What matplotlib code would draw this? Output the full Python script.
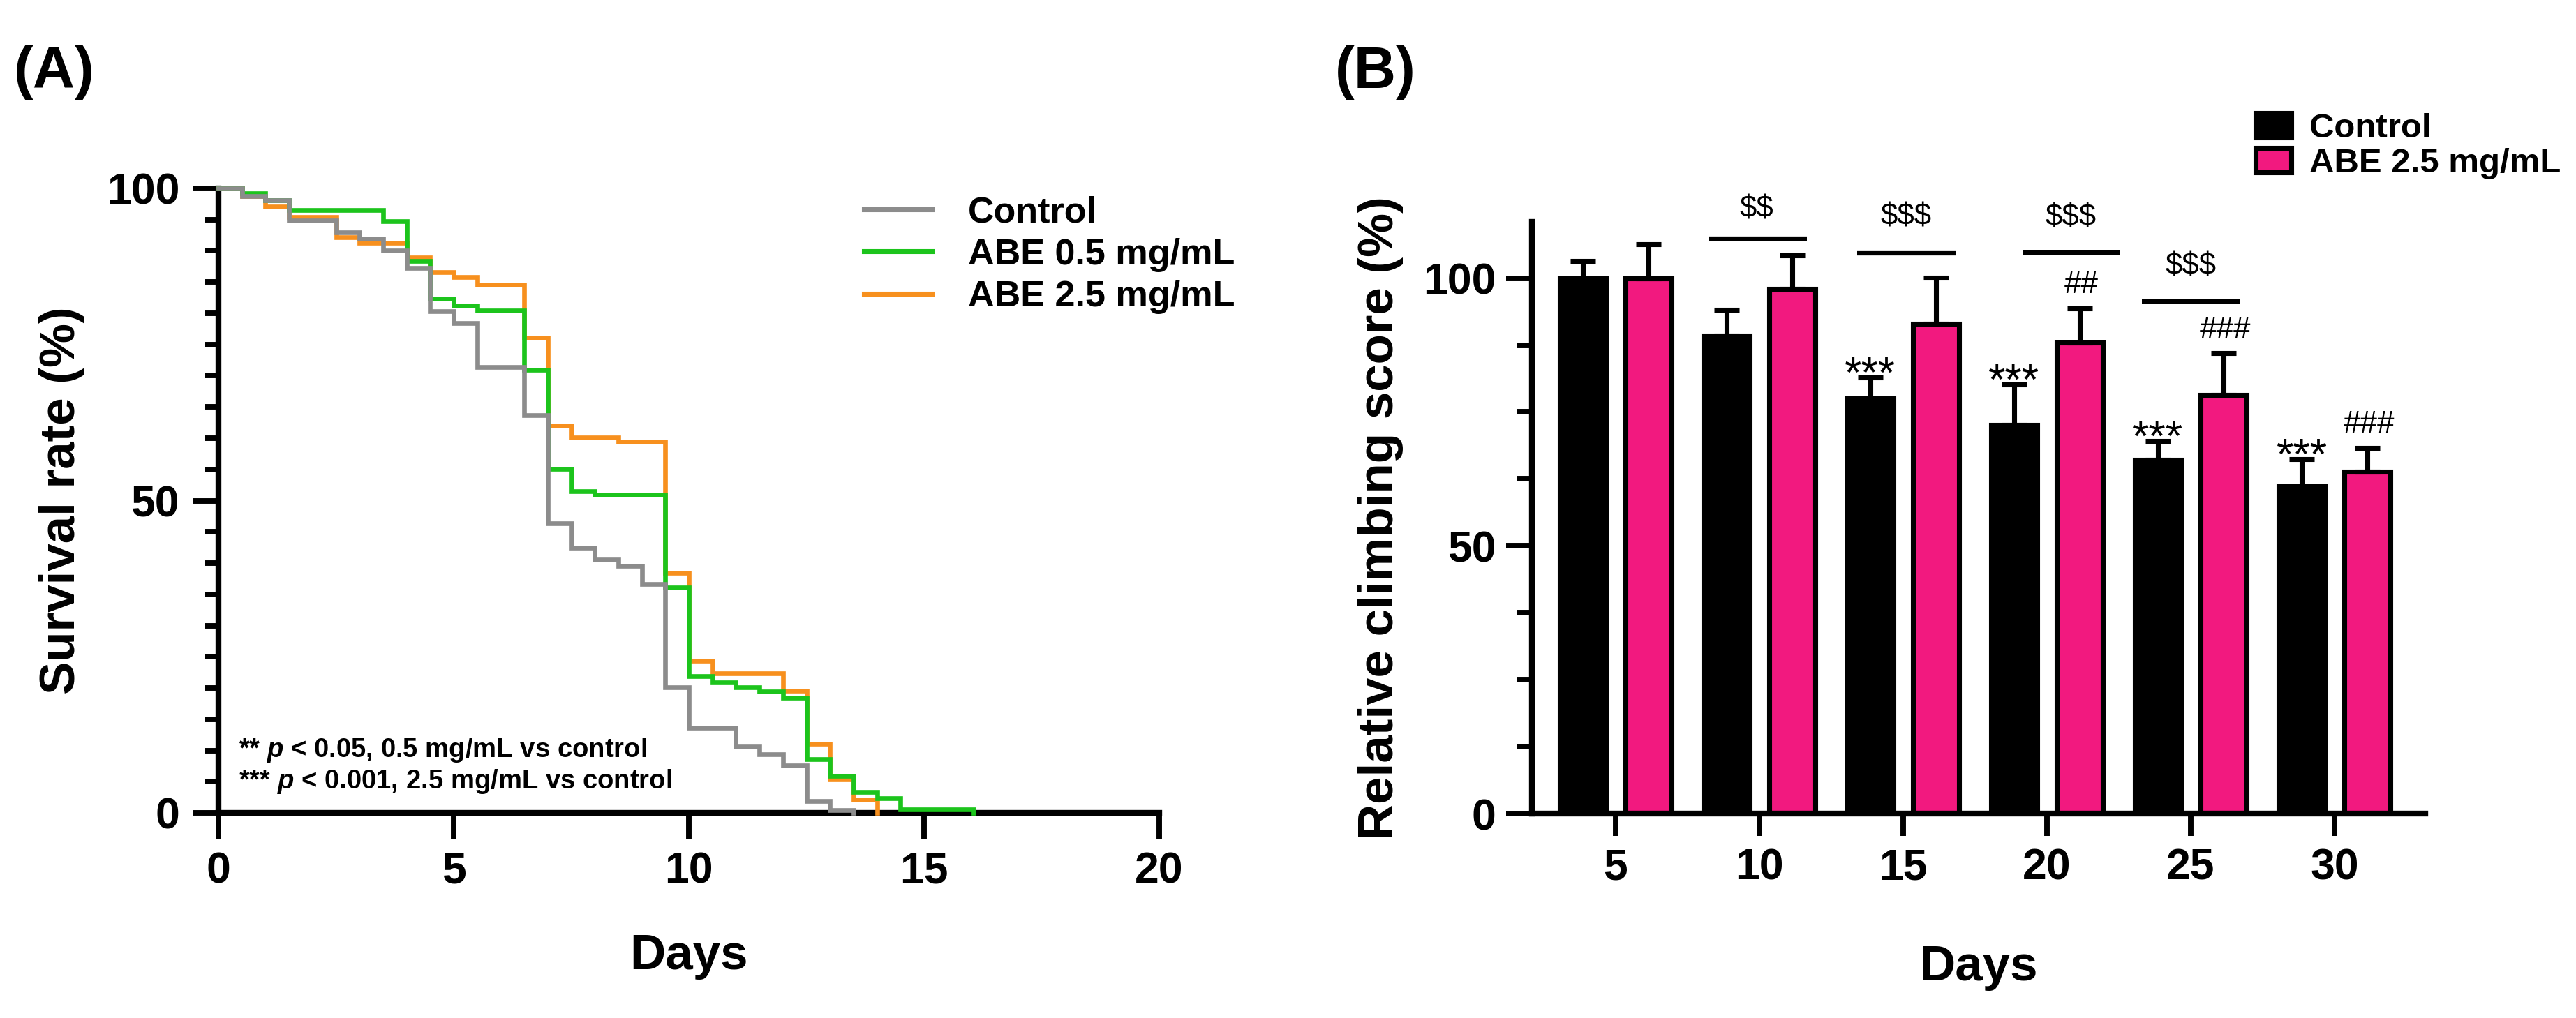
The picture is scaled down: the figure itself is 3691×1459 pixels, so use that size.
import matplotlib
matplotlib.use("Agg")
import matplotlib.pyplot as plt
from matplotlib.ticker import FixedLocator, MultipleLocator
import numpy as np

plt.rcParams['font.family'] = ['Liberation Sans', 'DejaVu Sans']
plt.rcParams['mathtext.fontset'] = 'custom'
plt.rcParams['mathtext.it'] = 'Liberation Sans:italic:bold'
plt.rcParams['mathtext.rm'] = 'Liberation Sans:bold'

# ---------------- Panel A data (Kaplan-Meier survival, step curves) ----------------
ctrl_days = [0, 0.5, 1.0, 1.5, 2.5, 3.0, 3.5, 4.0, 4.5, 5.0, 5.5, 6.5, 7.0, 7.5, 8.0, 8.5,
             9.0, 9.5, 10.0, 11.0, 11.5, 12.0, 12.5, 13.0, 13.5]
ctrl_surv = [100, 98.8, 98.1, 94.9, 93.0, 92.0, 90.0, 87.3, 80.3, 78.4, 71.4, 63.7, 46.4, 42.5, 40.6, 39.6,
             36.6, 20.1, 13.6, 10.6, 9.4, 7.6, 1.9, 0.4, 0]

abe05_days = [0, 0.5, 1.0, 1.5, 3.5, 4.0, 4.5, 5.0, 5.5, 6.5, 7.0, 7.5, 8.0, 9.5, 10.0, 10.5,
              11.0, 11.5, 12.0, 12.5, 13.0, 13.5, 14.0, 14.5, 16.05]
abe05_surv = [100, 99.2, 98.1, 96.5, 94.7, 88.4, 82.3, 81.2, 80.4, 70.9, 55.1, 51.5, 50.9, 36.1, 21.9, 20.9,
              20.1, 19.4, 18.4, 8.6, 5.9, 3.4, 2.4, 0.6, 0]

abe25_days = [0, 0.5, 1.0, 1.5, 2.5, 3.0, 4.0, 4.5, 5.0, 5.5, 6.5, 7.0, 7.5, 8.5, 9.5, 10.0,
              10.5, 12.0, 12.5, 13.0, 13.5, 14.0]
abe25_surv = [100, 98.8, 97.1, 95.4, 92.2, 91.3, 88.9, 86.6, 85.8, 84.6, 76.1, 62.0, 60.1, 59.4, 38.4, 24.4,
              22.4, 19.6, 11.1, 5.4, 2.1, 0]

surv_labels = ['Control', 'ABE 0.5 mg/mL', 'ABE 2.5 mg/mL']
surv_colors = ['#8c8c8c', '#1cc41c', '#f7901e']

# ---------------- Panel B data (relative climbing score) ----------------
climb_days = ['5', '10', '15', '20', '25', '30']
climb_ctrl = [100, 89.3, 77.5, 72.6, 66.1, 61.1]
climb_ctrl_err = [3.2, 4.8, 4.0, 7.5, 3.5, 5.1]
climb_abe = [100, 98.0, 91.5, 87.9, 78.2, 63.9]
climb_abe_err = [6.3, 6.2, 8.6, 6.5, 7.8, 4.4]
climb_labels = ['Control', 'ABE 2.5 mg/mL']
climb_colors = ['#000000', '#f2197f']

# significance annotations
dollar_text = ['$$', '$$$', '$$$', '$$$']
star_text = ['', '', '***', '***', '***', '***']
hash_text = ['', '', '', '##', '###', '###']

# ---------------- figure ----------------
W, H, DPI = 3691, 1459, 300
fig = plt.figure(figsize=(W / DPI, H / DPI), dpi=DPI)


def fx(px):
    return px / W


def fy(py):
    return 1 - py / H


# ===== Panel A =====
axA = fig.add_axes([fx(313), fy(1165), fx(1661) - fx(313), fy(270) - fy(1165)])
lines = []
for days, surv, col, lab, z in [(ctrl_days, ctrl_surv, surv_colors[0], surv_labels[0], 5),
                                (abe05_days, abe05_surv, surv_colors[1], surv_labels[1], 4),
                                (abe25_days, abe25_surv, surv_colors[2], surv_labels[2], 3)]:
    ln, = axA.step(days, surv, where='post', color=col, lw=1.6, label=lab,
                   clip_on=False, zorder=z, solid_joinstyle='miter')
    lines.append(ln)

axA.set_xlim(0, 20)
axA.set_ylim(0, 100)
for s in ['top', 'right']:
    axA.spines[s].set_visible(False)
for s in ['left', 'bottom']:
    axA.spines[s].set_linewidth(2.0)
axA.xaxis.set_major_locator(FixedLocator([0, 5, 10, 15, 20]))
axA.yaxis.set_major_locator(FixedLocator([0, 50, 100]))
axA.yaxis.set_minor_locator(MultipleLocator(5))
axA.tick_params(axis='both', which='major', direction='out', length=8.9, width=1.9,
                labelsize=15)
axA.tick_params(axis='y', which='major', pad=4.5)
axA.tick_params(axis='x', which='major', pad=4.3)
axA.tick_params(axis='y', which='minor', direction='out', length=4.5, width=1.9)
for lab in axA.get_xticklabels() + axA.get_yticklabels():
    lab.set_fontweight('bold')

legA = axA.legend(handles=lines, labels=surv_labels, loc='center left',
                  bbox_to_anchor=(fx(1238), fy(365)), bbox_transform=fig.transFigure,
                  frameon=False, borderpad=0, borderaxespad=0, handlelength=1.86,
                  handletextpad=1.0, labelspacing=0.22,
                  prop={'weight': 'bold', 'size': 12.5})
for h in legA.get_lines():
    h.set_linewidth(1.7)

axA.text((342 - 313) / 67.4, (1164 - 1084) / 8.93, r'** $p$ < 0.05, 0.5 mg/mL vs control',
         fontsize=9.2, fontweight='bold', ha='left', va='baseline')
axA.text((342 - 313) / 67.4, (1164 - 1129) / 8.93, r'*** $p$ < 0.001, 2.5 mg/mL vs control',
         fontsize=9.2, fontweight='bold', ha='left', va='baseline')

fig.text(fx(89), fy(717), 'Survival rate (%)', rotation=90, ha='center', va='center',
         fontsize=17, fontweight='bold')
fig.text(fx(987), fy(1389), 'Days', ha='center', va='baseline', fontsize=17, fontweight='bold')
fig.text(fx(20), fy(126), '(A)', ha='left', va='baseline', fontsize=20, fontweight='bold')

# ===== Panel B =====
axB = fig.add_axes([fx(2195), fy(1166), fx(3475) - fx(2195), fy(318) - fy(1166)])
x = np.arange(len(climb_days))
off = 0.228
bw = 0.32
bars_c = axB.bar(x - off, climb_ctrl, width=bw, color=climb_colors[0], edgecolor='black',
                 linewidth=1.7, label=climb_labels[0], zorder=2)
bars_a = axB.bar(x + off, climb_abe, width=bw, color=climb_colors[1], edgecolor='black',
                 linewidth=1.7, label=climb_labels[1], zorder=2)
axB.errorbar(x - off, climb_ctrl, yerr=[np.zeros(len(x)), climb_ctrl_err], fmt='none',
             ecolor='black', elinewidth=1.7, capsize=4.3, capthick=1.7, zorder=3)
axB.errorbar(x + off, climb_abe, yerr=[np.zeros(len(x)), climb_abe_err], fmt='none',
             ecolor='black', elinewidth=1.7, capsize=4.3, capthick=1.7, zorder=3)

axB.set_xlim(-0.58, 5.63)
axB.set_ylim(0, 110.5)
for s in ['top', 'right']:
    axB.spines[s].set_visible(False)
for s in ['left', 'bottom']:
    axB.spines[s].set_linewidth(2.0)
axB.set_xticks(x)
axB.set_xticklabels(climb_days)
axB.yaxis.set_major_locator(FixedLocator([0, 50, 100]))
axB.yaxis.set_minor_locator(FixedLocator([12.5, 25, 37.5, 62.5, 75, 87.5]))
axB.tick_params(axis='y', which='major', direction='out', length=9, width=1.9, labelsize=15, pad=3.4)
axB.tick_params(axis='y', which='minor', direction='out', length=5, width=1.9)
axB.tick_params(axis='x', which='major', direction='out', length=7.7, width=1.9, labelsize=15, pad=4)
for lab in axB.get_xticklabels() + axB.get_yticklabels():
    lab.set_fontweight('bold')

# brackets with $ labels
br_x = [(0.65, 1.33), (1.68, 2.37), (2.83, 3.51), (3.66, 4.34)]
br_y = [107.4, 104.7, 104.8, 95.7]
br_ty = [112.8, 111.4, 111.3, 102.2]
br_tx = [0.98, 2.02, 3.165, 4.0]
for (x0, x1), yy, tx, ty, t in zip(br_x, br_y, br_tx, br_ty, dollar_text):
    axB.plot([x0, x1], [yy, yy], color='black', lw=1.5, clip_on=False, solid_capstyle='butt')
    axB.text(tx, ty, t, ha='center', va='center', fontsize=10.5, parse_math=False, clip_on=False)

for i in range(len(x)):
    if star_text[i]:
        ytop = climb_ctrl[i] + climb_ctrl_err[i] + 2.9
        axB.annotate(star_text[i], xy=(x[i] - off, ytop), xytext=(0, -0.58 * 15),
                     textcoords='offset points', ha='center', va='baseline', fontsize=15)
    if hash_text[i]:
        ytop = climb_abe[i] + climb_abe_err[i] + 4.3
        axB.text(x[i] + off + 0.01, ytop, hash_text[i], ha='center', va='center', fontsize=10.5)

legB = axB.legend(handles=[bars_c, bars_a], labels=climb_labels, loc='center left',
                  bbox_to_anchor=(fx(3232), fy(209.5)), bbox_transform=fig.transFigure,
                  frameon=False, borderpad=0, borderaxespad=0, handlelength=1.04,
                  handleheight=0.71, handletextpad=0.52, labelspacing=0.1,
                  prop={'weight': 'bold', 'size': 11.8})

fig.text(fx(1978), fy(742), 'Relative climbing score (%)', rotation=90, ha='center', va='center',
         fontsize=17, fontweight='bold')
fig.text(fx(2835), fy(1405), 'Days', ha='center', va='baseline', fontsize=17, fontweight='bold')
fig.text(fx(1913), fy(126), '(B)', ha='left', va='baseline', fontsize=20, fontweight='bold')

fig.savefig('out.png', dpi=DPI)
